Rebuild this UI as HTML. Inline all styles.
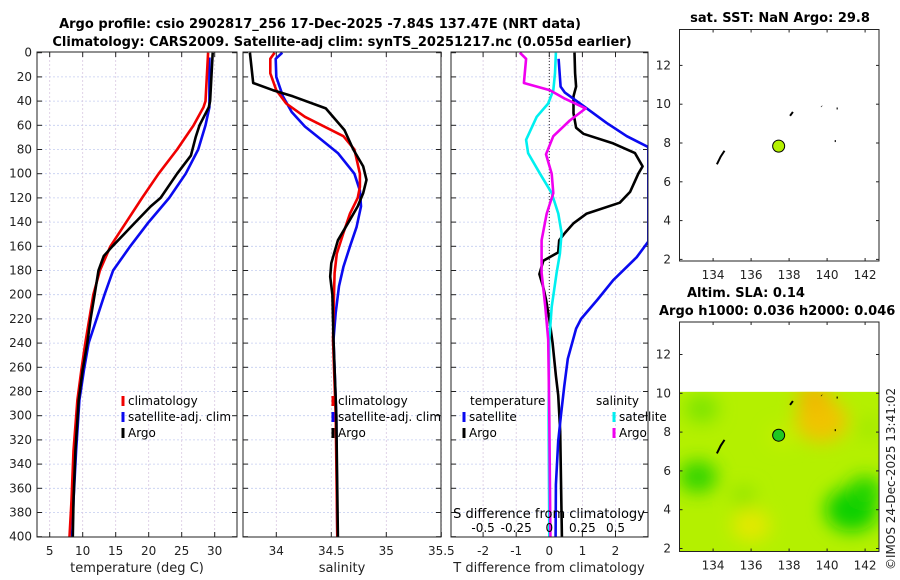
<!DOCTYPE html>
<html><head><meta charset="utf-8">
<style>
html,body{margin:0;padding:0;background:#fff;}
svg{display:block;font-family:"DejaVu Sans","Liberation Sans",sans-serif;}
</style></head>
<body>
<svg id="fig" width="900" height="580" viewBox="0 0 900 580" xmlns="http://www.w3.org/2000/svg">
<defs>
<clipPath id="c1"><rect x="37" y="52" width="200" height="485"/></clipPath>
<clipPath id="c2"><rect x="243" y="52" width="198" height="485"/></clipPath>
<clipPath id="c3"><rect x="451" y="52" width="197" height="485"/></clipPath>
<clipPath id="cm2"><rect x="680" y="391.7" width="199" height="160"/></clipPath>
<filter id="blur"><feGaussianBlur stdDeviation="9"/></filter>
</defs>
<text x="320" y="28" font-size="13" font-weight="bold" text-anchor="middle">Argo profile: csio 2902817_256 17-Dec-2025 -7.84S 137.47E (NRT data)</text>
<text x="342" y="46" font-size="13" font-weight="bold" text-anchor="middle">Climatology: CARS2009. Satellite-adj clim: synTS_20251217.nc (0.055d earlier)</text>
<g id="root"></g>
<text transform="translate(895,570) rotate(-90)" font-size="12" fill="#222">©IMOS 24-Dec-2025 13:41:02</text>
</svg>
<script>
// ---- data ----
const tClimDepth=[0,40,45,60,80,100,120,140,160,180,200,220,240,262,287,329,370,400];
const tClimVal=[29.0,28.6,28.3,26.8,24.3,21.5,19.0,16.6,14.2,12.6,11.6,11.0,10.4,9.8,9.2,8.6,8.3,8.0];
const tArgoDepth=[0,40,45,60,70,85,100,120,127,140,160,168,180,200,220,240,262,287,329,370,400];
const tArgoVal=[29.7,29.3,29.1,27.7,27.1,26.4,24.3,21.8,20.3,18.0,14.5,13.2,12.4,11.8,11.2,10.7,10.0,9.4,8.9,8.6,8.5];
const tSatDepth=[4,45,60,80,100,120,140,160,180,200,220,240,262,287,329,370,400];
const tSatVal=[29.2,29.2,28.6,27.5,25.6,23.1,20.0,17.2,14.6,13.3,12.1,10.9,10.2,9.5,9.0,8.6,8.4];
const sClimDepth=[0,5,17,31,42,53,69,80,100,111,120,133,149,166,182,200,237,300,400];
const sClimVal=[33.985,33.945,33.945,34.0,34.09,34.26,34.61,34.71,34.76,34.76,34.74,34.67,34.61,34.55,34.53,34.525,34.515,34.54,34.555];
const sArgoDepth=[0,25,31,36,46,64,80,94,105,116,127,138,155,174,185,200,237,300,400];
const sArgoVal=[33.76,33.79,33.97,34.15,34.45,34.62,34.70,34.79,34.82,34.79,34.74,34.67,34.56,34.50,34.49,34.51,34.52,34.545,34.56];
const sSatDepth=[0,5,20,36,49,61,72,83,100,114,127,144,160,177,193,215,237,300,400];
const sSatVal=[34.055,33.995,34.0,34.06,34.14,34.26,34.41,34.56,34.71,34.76,34.77,34.73,34.67,34.61,34.57,34.54,34.52,34.545,34.555];
const dtArgoDepth=[0,17,28,36,50,62,67,75,83,94,100,115,124,133,141,149,155,165,172,183,194,204,220,240,267,283,313,400];
const dtArgoVal=[0.76,0.78,0.81,0.73,0.73,0.81,1.03,1.93,2.59,2.82,2.69,2.44,2.13,1.13,0.73,0.47,0.30,0.27,-0.18,-0.30,-0.18,-0.1,0,0.1,0.2,0.27,0.33,0.38];
const dtSatDepth=[5,28,33,44,58,69,78,156,169,188,204,220,228,253,276,300,321,357,400];
const dtSatVal=[0.28,0.34,0.47,1.03,1.73,2.34,2.99,2.99,2.64,1.93,1.46,0.96,0.81,0.56,0.45,0.35,0.27,0.2,0.19];
const dsSatDepth=[0,17,31,42,53,72,83,100,116,133,149,166,182,210,237,300,400];
const dsSatVal=[0.05,0.043,0.03,-0.008,-0.095,-0.175,-0.16,-0.07,0.018,0.068,0.093,0.08,0.055,0.018,0,-0.005,0];
const dsArgoDepth=[0,5,25,31,38,46,56,69,84,100,116,133,155,182,210,237,300,400];
const dsArgoVal=[-0.222,-0.175,-0.192,0.005,0.118,0.275,0.155,0.03,-0.025,0.018,0.03,-0.02,-0.058,-0.058,-0.03,-0.008,0,0.008];
const depthTicks=[0,20,40,60,80,100,120,140,160,180,200,220,240,260,280,300,320,340,360,380,400];
const tempTicks=[5,10,15,20,25,30];
const salTicks=[34,34.5,35,35.5];
const salTickLabels=["34","34.5","35","35.5"];
const dtTicks=[-2,-1,0,1,2];
const dsTicks=[-0.5,-0.25,0,0.25,0.5];
const dsTickLabels=["-0.5","-0.25","0","0.25","0.5"];
const lonTicks=[134,136,138,140,142];
const latTicks=[2,4,6,8,10,12];
const argoLon=[137.45];
const argoLat=[7.84];

// ---- scales ----
const yD=d=>52.7+d*1.21;
const xT=t=>49.7+(t-5)*6.6;
const xS=s=>276.3+(s-34)*110;
const xD=v=>549.3+v*33.1;
const xDs=s=>549.3+s*132.4;
const xLon=l=>713.1+(l-134)*19;
const yLat1=l=>259.4-(l-2)*19.4;
const yLat2=l=>548.5-(l-2)*19.4;

const NS="http://www.w3.org/2000/svg";
const root=document.getElementById('root');
function mk(tag,attrs,parent){const e=document.createElementNS(NS,tag);for(const k in attrs)e.setAttribute(k,attrs[k]);(parent||root).appendChild(e);return e;}
function txt(x,y,s,size,anchor,parent,fill){const e=mk('text',{x:x,y:y,'font-size':size,'text-anchor':anchor||'start',fill:fill||'#222'},parent);e.textContent=s;return e;}

const panels=[{x0:37,x1:237,clip:'c1'},{x0:243,x1:441,clip:'c2'},{x0:451,x1:648,clip:'c3'}];
const Y0=52,Y1=537;

panels.forEach((p,i)=>{
  const g=mk('g',{});
  
  
  depthTicks.forEach(d=>{
    const y=yD(d);
    if(d>0&&d<400){const l=mk('line',{x1:p.x0,x2:p.x1,y1:y,y2:y,stroke:'#c4cdf0','stroke-width':0.8,'stroke-dasharray':'2,2'},g);
      
      }
    mk('line',{x1:p.x0,x2:p.x0+5,y1:y,y2:y,stroke:'#222','stroke-width':1},g);
    mk('line',{x1:p.x1-5,x2:p.x1,y1:y,y2:y,stroke:'#222','stroke-width':1},g);
  });
  p.g=g;
});
depthTicks.forEach(d=>{const t=txt(32,yD(d)+4,String(d),12,'end');
  
  });

function vgrid(p,x,lbl){
  const l=mk('line',{x1:x,x2:x,y1:Y0,y2:Y1,stroke:'#d8c8e0','stroke-width':0.8,'stroke-dasharray':'2,2'},p.g);
  
  
  mk('line',{x1:x,x2:x,y1:Y0,y2:Y0+5,stroke:'#222'},p.g);
  mk('line',{x1:x,x2:x,y1:Y1-5,y2:Y1,stroke:'#222'},p.g);
  const t=txt(x,555,lbl,12,'middle',p.g);
  
  
}
tempTicks.forEach(t=>vgrid(panels[0],xT(t),String(t)));
salTicks.forEach((s,i)=>vgrid(panels[1],xS(s),salTickLabels[i]));
dtTicks.forEach(v=>vgrid(panels[2],xD(v),String(v)));

function series(p,depths,vals,xf,color,name,w){
  const pts=depths.map((d,i)=>xf(vals[i]).toFixed(1)+','+yD(d).toFixed(1)).join(' ');
  const e=mk('polyline',{points:pts,fill:'none',stroke:color,'stroke-width':w||2.6,'stroke-linejoin':'round','clip-path':'url(#'+p.clip+')'},p.g);
  
  
}
series(panels[0],tSatDepth,tSatVal,xT,'#0a0af0','temp-satellite-line');
series(panels[0],tClimDepth,tClimVal,xT,'#f00000','temp-climatology-line');
series(panels[0],tArgoDepth,tArgoVal,xT,'#000','temp-argo-line');
series(panels[1],sSatDepth,sSatVal,xS,'#0a0af0','salinity-satellite-line');
series(panels[1],sClimDepth,sClimVal,xS,'#f00000','salinity-climatology-line');
series(panels[1],sArgoDepth,sArgoVal,xS,'#000','salinity-argo-line');
const z=mk('line',{x1:xD(0),x2:xD(0),y1:Y0,y2:Y1,stroke:'#333','stroke-width':1,'stroke-dasharray':'1,2'},panels[2].g);


series(panels[2],dtArgoDepth,dtArgoVal,xD,'#000','tdiff-argo-line');
series(panels[2],dtSatDepth,dtSatVal,xD,'#0a0af0','tdiff-satellite-line');
series(panels[2],dsSatDepth,dsSatVal,xDs,'#00f0f0','sdiff-satellite-line');
series(panels[2],dsArgoDepth,dsArgoVal,xDs,'#f000f0','sdiff-argo-line');

function legend(p,x,y,color,label,nm,noclip){
  const g=mk('g',{},p.g);
  
  
  mk('line',{x1:x,x2:x,y1:y-9,y2:y+1,stroke:color,'stroke-width':3},g);
  const t=txt(x+5,y,label,12,'start',g,'#000');
  if(!noclip) t.setAttribute('clip-path','url(#'+p.clip+')');
}
legend(panels[0],123,405,'#f00000','climatology','legend-climatology');
legend(panels[0],123,421,'#0a0af0','satellite-adj. clim','legend-satellite');
legend(panels[0],123,437,'#000','Argo','legend-argo');
legend(panels[1],333,405,'#f00000','climatology','legend-climatology-2');
legend(panels[1],333,421,'#0a0af0','satellite-adj. clim','legend-satellite-2');
legend(panels[1],333,437,'#000','Argo','legend-argo-2');
txt(470,405,'temperature',12,'start',panels[2].g,'#000');
txt(596,405,'salinity',12,'start',panels[2].g,'#000');
legend(panels[2],464,421,'#0a0af0','satellite','legend-tdiff-satellite',true);
legend(panels[2],464,437,'#000','Argo','legend-tdiff-argo',true);
legend(panels[2],614,421,'#00f0f0','satellite','legend-sdiff-satellite',true);
legend(panels[2],614,437,'#f000f0','Argo','legend-sdiff-argo',true);
const st=txt(549,518,'S difference from climatology',13,'middle',panels[2].g,'#000');


dsTicks.forEach((s,i)=>{const t=txt(xDs(s),532,dsTickLabels[i],12,'middle',panels[2].g,'#000');
  
  });

panels.forEach(p=>{const r=mk('rect',{x:p.x0,y:Y0,width:p.x1-p.x0,height:Y1-Y0,fill:'none',stroke:'#222','stroke-width':1},p.g);
  
  });
[['temperature (deg C)',137],['salinity',342],['T difference from climatology',549]].forEach(a=>{
  const t=txt(a[1],572,a[0],13,'middle');
  
  });

function map(yTop,yBot,yLat,name,dotColor,colored){
  const g=mk('g',{});
  
  
  if(colored){
    const cg=mk('g',{'clip-path':'url(#cm2)'},g);
    mk('rect',{x:680,y:391.7,width:199,height:160,fill:'#b4f000'},cg);
    const bl=mk('g',{filter:'url(#blur)'},cg);
    const blobs=[[139.7,8.6,22,'#f0c400'],[139.3,9.8,14,'#f0b800'],[136,3.2,16,'#e4e800'],[141.3,4,22,'#10d000'],[142,5,14,'#20d400'],[133.2,5.7,16,'#30d400'],[133.4,9.2,14,'#7ce400'],[135.6,4.7,10,'#90e400'],[142.2,8.2,10,'#a0e800'],[137.6,7.8,10,'#c8f000']];
    blobs.forEach(b=>mk('ellipse',{cx:xLon(b[0]),cy:yLat(b[1]),rx:b[2]*1.2,ry:b[2],fill:b[3]},bl));
  }
  const coast=[[[134.2,6.9],[134.4,7.3],[134.6,7.6]],[[138.05,9.4],[138.2,9.6]],[[139.7,9.9],[139.72,9.88]],[[140.5,9.78],[140.56,9.78]],[[140.4,8.1],[140.46,8.1]]];
  coast.forEach(c=>{const e=mk('polyline',{points:c.map(p=>xLon(p[0])+','+yLat(p[1])).join(' '),fill:'none',stroke:'#000','stroke-width':2},g);
    
    });
  const dot=mk('circle',{cx:xLon(argoLon[0]),cy:yLat(argoLat[0]),r:6,fill:dotColor,stroke:'#000','stroke-width':1},g);
  
  
  lonTicks.forEach(l=>{const x=xLon(l);mk('line',{x1:x,x2:x,y1:yTop,y2:yTop+3,stroke:'#222'},g);mk('line',{x1:x,x2:x,y1:yBot-3,y2:yBot,stroke:'#222'},g);
    const t=txt(x,yBot+18,String(l),12,'middle',g);
    
    });
  latTicks.forEach(l=>{const y=yLat(l);mk('line',{x1:679.5,x2:682.5,y1:y,y2:y,stroke:'#222'},g);mk('line',{x1:876,x2:879,y1:y,y2:y,stroke:'#222'},g);
    const t=txt(671,y+4,String(l),12,'end',g);
    
    });
  mk('rect',{x:679.5,y:yTop,width:199.5,height:yBot-yTop,fill:'none',stroke:'#222'},g);
}
map(29.5,261,yLat1,'sst-map','#b4f000',false);
map(322,551.5,yLat2,'sla-map','#20c820',true);
[['sat. SST: NaN Argo: 29.8',780,22],['Altim. SLA: 0.14',687,297,'start'],['Argo h1000: 0.036 h2000: 0.046',659,315,'start']].forEach(a=>{
  const t=txt(a[1],a[2],a[0],13,a[3]||'middle',root,'#000');t.setAttribute('font-weight','bold');
  
  });
</script>
</body></html>
